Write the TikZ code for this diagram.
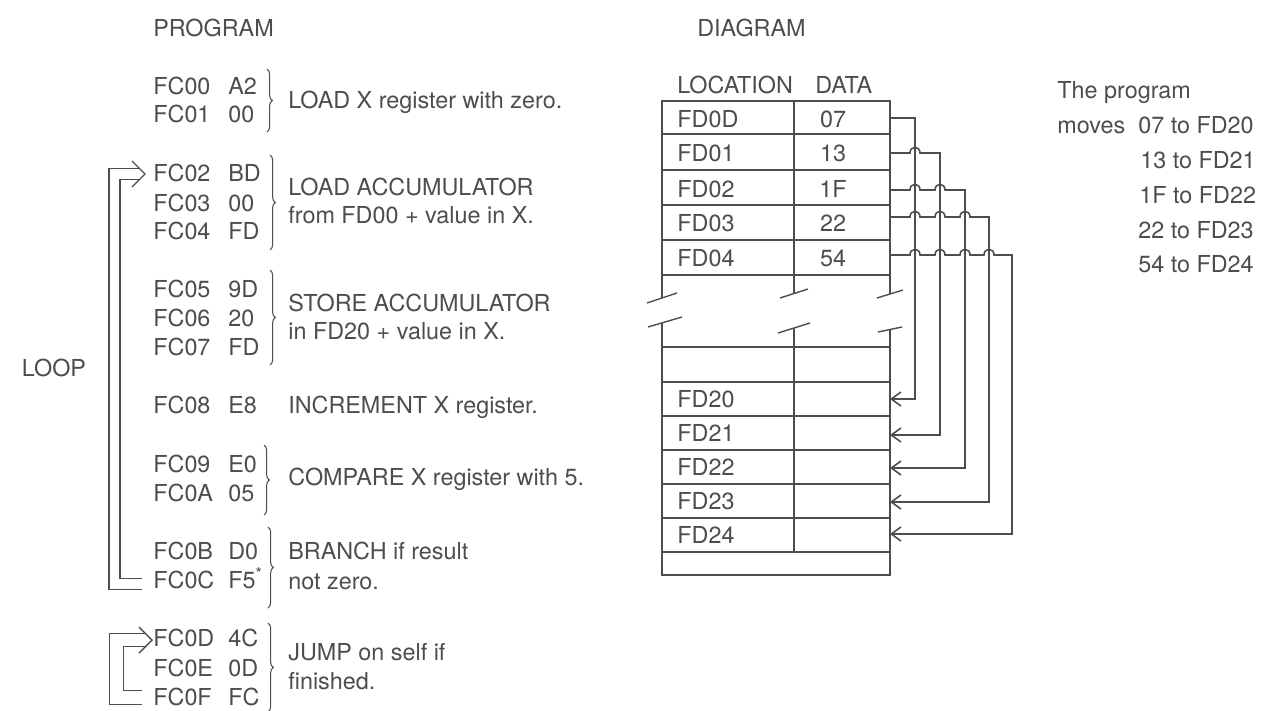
\documentclass[tikz,border=0pt]{standalone}
\usepackage{fontspec}
\setmainfont{TeX Gyre Heros}
\usetikzlibrary{arrows.meta,decorations.pathreplacing}

\definecolor{ink}{HTML}{4D4D4D}

% a small bump where one wire jumps over another
\newcommand{\wirehop}[2]{-- (#1-5,#2) .. controls (#1-5,#2-7.5) and (#1+5,#2-7.5) .. (#1+5,#2)}

\begin{document}
\begin{tikzpicture}[
    x=0.02cm, y=-0.02cm,
    font=\fontsize{13.3}{15}\selectfont,
    every node/.style={text=ink, inner sep=0pt, text height=9.9pt, text depth=0.3pt},
    txt/.style={anchor=west},
    frame/.style={draw=ink, line width=1.3pt},
    grid/.style={draw=ink, line width=0.8pt},
    bracket/.style={draw=ink, line width=0.6pt, decorate, decoration={brace, amplitude=3pt}},
    loopline/.style={draw=ink, line width=0.75pt, double=white},
    loophead/.style={draw=ink, line width=0.8pt, line join=miter},
    wire/.style={draw=ink, line width=0.9pt, -{Straight Barb[length=5.5pt,width=8pt]}}
]

    \useasboundingbox (0,0) rectangle (1264,710);

    % Headings
    \node[txt] (proghead) at (153,28) {PROGRAM};
    \node[txt] (diaghead) at (697,28) {DIAGRAM};

    % Program listing
    \foreach \n/\addr/\dat/\yy in {0/FC00/A2/86, 1/FC01/00/114, 2/FC02/BD/173,
        3/FC03/00/203, 4/FC04/FD/231, 5/FC05/9D/289, 6/FC06/20/318, 7/FC07/FD/347,
        8/FC08/E8/405, 9/FC09/E0/464, A/FC0A/05/493, B/FC0B/D0/551,
        C/FC0C/F5\textsuperscript{*}/580, D/FC0D/4C/638, E/FC0E/0D/668, F/FC0F/FC/697}
    {
        \node[txt] (a\n) at (153,\yy) {\addr};
        \node[txt] (d\n) at (228,\yy) {\dat};
    }

    % Brackets
    \draw[bracket] (267,69) -- (267,132);
    \draw[bracket] (270,155) -- (270,250);
    \draw[bracket] (270,270) -- (270,365);
    \draw[bracket] (264,445) -- (264,515);
    \draw[bracket] (268,527) -- (268,608);
    \draw[bracket] (268,623) -- (268,712);

    % Comments
    \node[txt] (cmt1) at (288,100) {LOAD X register with zero.};
    \node[txt] (cmt2) at (288,187) {LOAD ACCUMULATOR};
    \node[txt] (cmt2b) at (288,215) {from FD00 + value in X.};
    \node[txt] (cmt3) at (288,303) {STORE ACCUMULATOR};
    \node[txt] (cmt3b) at (288,331) {in FD20 + value in X.};
    \node[txt] (cmt4) at (288,405) {INCREMENT X register.};
    \node[txt] (cmt5) at (288,477) {COMPARE X register with 5.};
    \node[txt] (cmt6) at (288,551) {BRANCH if result};
    \node[txt] (cmt6b) at (288,581) {not zero.};
    \node[txt] (cmt7) at (288,652) {JUMP on self if};
    \node[txt] (cmt7b) at (288,681) {finished.};

    % Loop arrows (double lines, open chevron heads)
    \node (looplbl) at (54,368) {LOOP};
    \draw[loopline, double distance=5.5pt]
        ([shift={(-11,4)}]aC.west) -- ++(-27.5,0) |- ([shift={(-14,1)}]a2.west);
    \draw[loophead] ([shift={(-21,-12)}]a2.west) -- ([shift={(-8,1)}]a2.west)
        -- ([shift={(-21,14)}]a2.west);
    \draw[loopline, double distance=7pt]
        ([shift={(-11,0.5)}]aF.west) -- ++(-25.5,0) |- ([shift={(-7,2)}]aD.west);
    \draw[loophead] ([shift={(-14,-11)}]aD.west) -- ([shift={(-1,2)}]aD.west)
        -- ([shift={(-14,15)}]aD.west);

    % Memory table, upper part
    \node[txt] (hdrloc) at (677,85) {LOCATION};
    \node[txt] (hdrdata) at (815,85) {DATA};
    \draw[frame] (662,298) -- (662,101) -- (890,101) -- (890,294);
    \foreach \yy in {134,170,205,240,275}
        \draw[grid] (662,\yy) -- (890,\yy);
    \draw[grid] (794,101) -- (794,294);
    \foreach \r/\loc/\val/\yy in {1/FD0D/07/119, 2/FD01/13/153, 3/FD02/1F/189, 4/FD03/22/223, 5/FD04/54/258}
    {
        \node[txt] (loc\r) at (677,\yy) {\loc};
        \node (val\r) at (833,\yy) {\val};
    }

    % Break marks
    \draw[grid] (647,303) -- (677,293);
    \draw[grid] (648,327) -- (682,317);
    \draw[grid] (780,298) -- (808,289);
    \draw[grid] (778,333) -- (810,323);
    \draw[grid] (877,298) -- (903,290);
    \draw[grid] (878,332) -- (902,327);

    % Memory table, lower part
    \draw[frame] (662,323) -- (662,575) -- (890,575) -- (890,330);
    \foreach \yy in {347,382,416,450,484,518,552}
        \draw[grid] (662,\yy) -- (890,\yy);
    \draw[grid] (794,328) -- (794,552);
    \foreach \r/\loc/\yy in {1/FD20/399, 2/FD21/433, 3/FD22/467, 4/FD23/501, 5/FD24/535}
        \node[txt] (dst\r) at (677,\yy) {\loc};

    % Wires from source rows to destination rows
    \coordinate (src1) at (890,118);
    \coordinate (src2) at (890,153);
    \coordinate (src3) at (890,190);
    \coordinate (src4) at (890,217);
    \coordinate (src5) at (890,255);
    \coordinate (in1) at (890,399);
    \coordinate (in2) at (890,435);
    \coordinate (in3) at (890,468);
    \coordinate (in4) at (890,502);
    \coordinate (in5) at (890,534);

    \draw[wire] (src1) -- (915,118) -- (915,399) -- (in1);
    \draw[wire] (src2) \wirehop{915}{153} -- (940,153) -- (940,435) -- (in2);
    \draw[wire] (src3) \wirehop{915}{190} \wirehop{940}{190}
        -- (965,190) -- (965,468) -- (in3);
    \draw[wire] (src4) \wirehop{915}{217} \wirehop{940}{217} \wirehop{965}{217}
        -- (989,217) -- (989,502) -- (in4);
    \draw[wire] (src5) \wirehop{915}{255} \wirehop{940}{255} \wirehop{965}{255}
        \wirehop{989}{255} -- (1012,255) -- (1012,534) -- (in5);

    % Note
    \node[txt] (note) at (1057,90) {The program};
    \node[txt] (moves) at (1057,125) {moves};
    \node[txt] (mv1) at (1138,125) {07 to FD20};
    \node[txt] (mv2) at (1140,160) {13 to FD21};
    \node[txt] (mv3) at (1139,195) {1F to FD22};
    \node[txt] (mv4) at (1138,230) {22 to FD23};
    \node[txt] (mv5) at (1138,264) {54 to FD24};

\end{tikzpicture}
\end{document}
